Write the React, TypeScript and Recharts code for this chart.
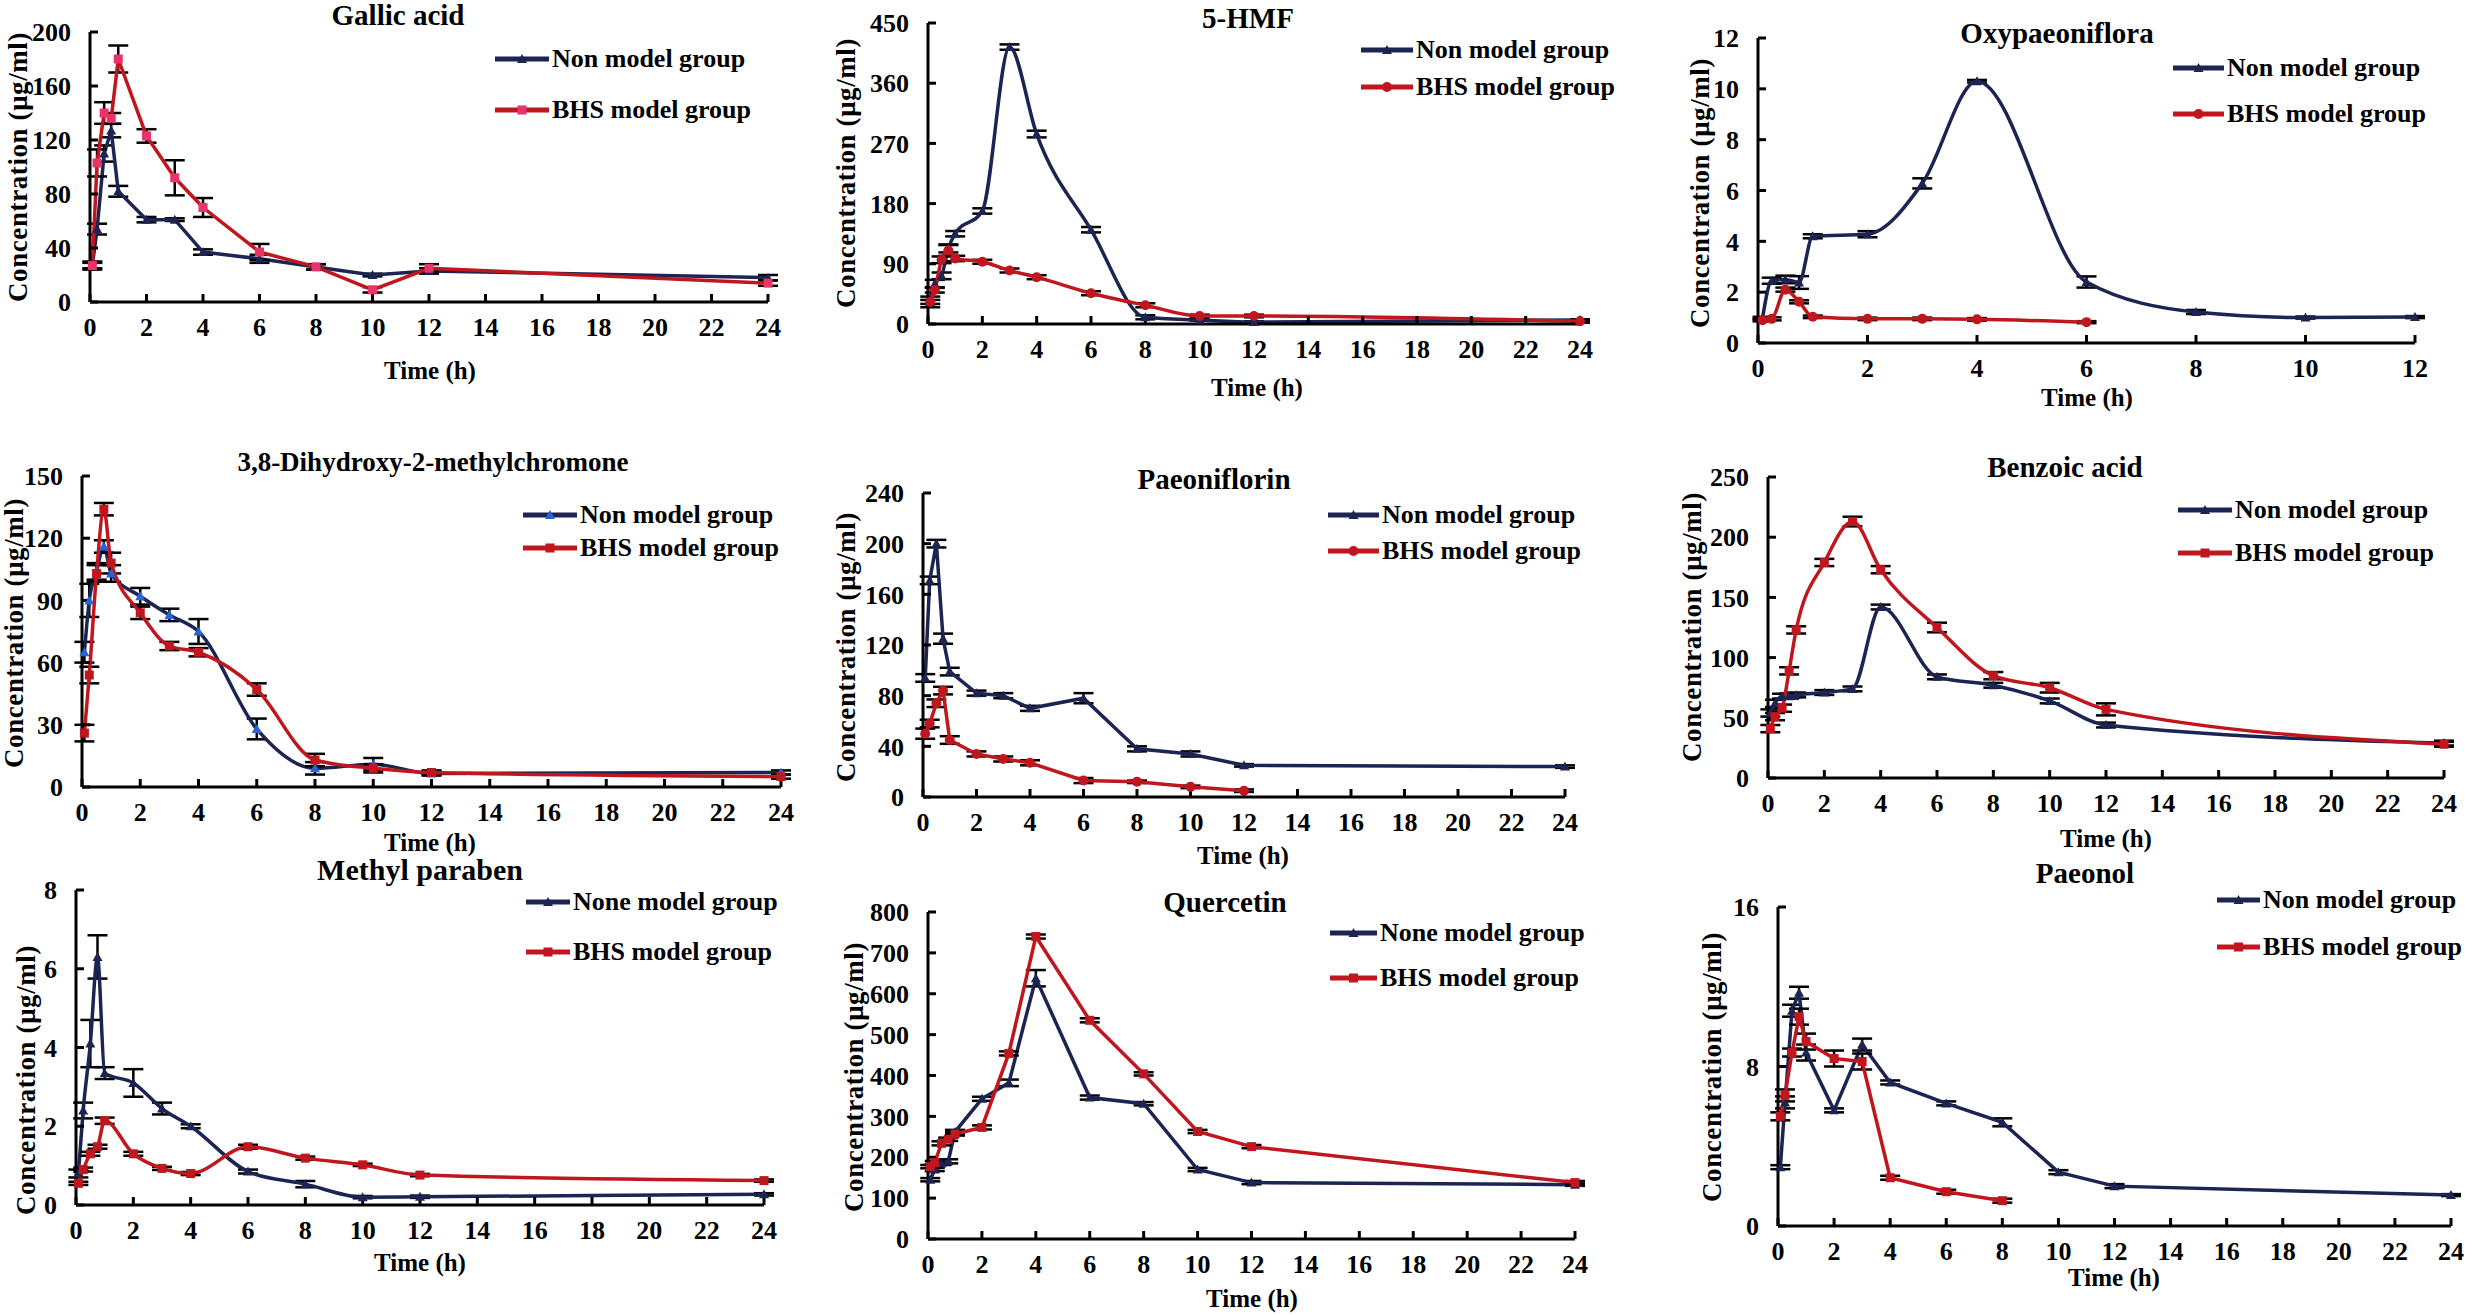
import React from 'react';
import { LineChart, Line, XAxis, YAxis, ErrorBar } from 'recharts';

// sampling times (h)
const TIMES = [0.083, 0.25, 0.5, 0.75, 1, 2, 3, 4, 6, 8, 10, 12, 24];
const HOURS_24 = [0, 2, 4, 6, 8, 10, 12, 14, 16, 18, 20, 22, 24];
const HOURS_12 = [0, 2, 4, 6, 8, 10, 12];

const gallicNon = [27, 54, 110, 127, 82, 61, 61, 37, 32, 26, 20, 23, 18];
const gallicNonErr = [2, 4, 6, 5, 4, 2, 1, 2, 3, 2, 1, 2, 2];
const gallicBhs = [27, 103, 140, 136, 180, 123, 92, 70, 37, 26, 9, 25, 14];
const gallicBhsErr = [3, 10, 8, 4, 10, 5, 13, 7, 6, 2, 2, 3, 2];
const gallicTicks = [0, 40, 80, 120, 160, 200];

const hmfNon = [33, 60, 72, 113, 135, 169, 414, 284, 141, 10, 6, 3, 6];
const hmfNonErr = [8, 6, 5, 6, 4, 4, 4, 5, 4, 3, 1, 1, 1];
const hmfBhs = [33, 51, 96, 110, 98, 93, 80, 70, 46, 28, 12, 12, 4];
const hmfBhsErr = [3, 4, 5, 8, 4, 3, 3, 3, 3, 3, 2, 2, 2];
const hmfTicks = [0, 90, 180, 270, 360, 450];

const oxyNon = [0.98, 2.45, 2.5, 2.38, 4.2, 4.28, 6.28, 10.3, 2.4, 1.22, 1.0, 1.02];
const oxyNonErr = [0.05, 0.12, 0.15, 0.25, 0.08, 0.12, 0.2, 0.05, 0.22, 0.08, 0.04, 0.04];
const oxyBhs = [0.9, 0.95, 2.1, 1.62, 1.03, 0.95, 0.95, 0.93, 0.82];
const oxyBhsErr = [0.05, 0.06, 0.08, 0.06, 0.05, 0.05, 0.05, 0.05, 0.04];
const oxyTicks = [0, 2, 4, 6, 8, 10, 12];

const dhmcNon = [65, 90, 104, 116, 103, 92, 83, 75, 28, 9, 11, 6.5, 7];
const dhmcNonErr = [5, 8, 4, 3, 4, 4, 3, 6, 5, 3, 3, 1, 1];
const dhmcBhs = [26, 54, 103, 134, 108, 84, 68, 65, 47, 13, 9, 7, 5];
const dhmcBhsErr = [4, 4, 4, 3, 5, 3, 2, 2, 3, 3, 2, 1, 1];
const dhmcTicks = [0, 30, 60, 90, 120, 150];

const paeoniflorinNon = [94, 171, 200, 125, 99, 82, 80, 70, 78, 38, 34, 25, 24];
const paeoniflorinNonErr = [3, 3, 3, 4, 3, 2, 2, 2, 4, 2, 2, 1, 1];
const paeoniflorinBhs = [50, 58, 74, 84, 45, 34, 30, 27, 13, 12, 8, 5];
const paeoniflorinBhsErr = [4, 3, 3, 3, 3, 2, 2, 2, 2, 1, 1, 1];
const paeoniflorinTicks = [0, 40, 80, 120, 160, 200, 240];

const benzoicNon = [54, 62, 68, 68, 69, 71, 74, 142, 84, 77, 64, 44, 29];
const benzoicNonErr = [3, 3, 2, 2, 2, 2, 2, 2, 2, 2, 2, 2, 2];
const benzoicBhs = [41, 51, 58, 89, 123, 179, 213, 173, 125, 85, 75, 57, 28];
const benzoicBhsErr = [3, 3, 3, 3, 3, 3, 4, 3, 4, 3, 4, 5, 2];
const benzoicTicks = [0, 50, 100, 150, 200, 250];

const methylNon = [0.8, 2.4, 4.1, 6.3, 3.35, 3.1, 2.45, 2.0, 0.85, 0.53, 0.2, 0.21, 0.27];
const methylNonErr = [0.1, 0.2, 0.6, 0.55, 0.15, 0.35, 0.15, 0.05, 0.05, 0.08, 0.03, 0.03, 0.03];
const methylBhs = [0.55, 0.9, 1.3, 1.48, 2.14, 1.3, 0.93, 0.8, 1.48, 1.19, 1.02, 0.76, 0.62];
const methylBhsErr = [0.04, 0.05, 0.05, 0.05, 0.08, 0.05, 0.04, 0.04, 0.05, 0.04, 0.03, 0.03, 0.03];
const methylTicks = [0, 2, 4, 6, 8];

const quercetinNon = [145, 170, 185, 190, 262, 343, 382, 638, 346, 331, 170, 138, 133];
const quercetinNonErr = [4, 4, 4, 5, 5, 5, 8, 20, 5, 4, 4, 4, 3];
const quercetinBhs = [177, 187, 234, 244, 257, 273, 454, 740, 535, 404, 263, 226, 138];
const quercetinBhsErr = [4, 4, 5, 4, 4, 5, 5, 5, 5, 4, 4, 4, 4];
const quercetinTicks = [0, 100, 200, 300, 400, 500, 600, 700, 800];

const paeonolNon = [2.95, 6.2, 10.8, 11.7, 8.7, 5.8, 9.1, 7.2, 6.15, 5.2, 2.7, 2.0, 1.55];
const paeonolNonErr = [0.1, 0.3, 0.3, 0.3, 0.4, 0.1, 0.3, 0.1, 0.1, 0.2, 0.1, 0.1, 0.05];
const paeonolBhs = [5.5, 6.55, 8.7, 10.5, 9.25, 8.4, 8.25, 2.42, 1.72, 1.27];
const paeonolBhsErr = [0.2, 0.3, 0.2, 0.4, 0.4, 0.4, 0.4, 0.1, 0.1, 0.1];
const paeonolTicks = [0, 8, 16];

const NAVY = '#1b2452';
const RED = '#c0161e';
const FONT = '"Liberation Serif", "Times New Roman", serif';

type Marker = 'triangle' | 'square' | 'circle';

const Dot = (props: any, shape: Marker, fill: string) => {
  const { cx, cy, key } = props;
  if (cx == null || cy == null) return <g key={key} />;
  if (shape === 'triangle') {
    return (
      <path
        key={key}
        d={`M${cx},${cy - 5} L${cx + 5},${cy + 4} L${cx - 5},${cy + 4} Z`}
        fill={fill}
      />
    );
  }
  if (shape === 'circle') {
    return <circle key={key} cx={cx} cy={cy} r={5} fill={fill} />;
  }
  return <rect key={key} x={cx - 4.5} y={cy - 4.5} width={9} height={9} fill={fill} />;
};

interface PanelProps {
  title: string;
  titleSize?: number;
  times: number[];
  non: number[];
  nonErr: number[];
  bhs: number[];
  bhsErr: number[];
  yTicks: number[];
  xTicks: number[];
  nonLabel: string;
  curve: 'linear' | 'monotone';
  nonMarker?: string;
  bhsMarker?: Marker;
  bhsMarkerFill?: string;
  plot: [number, number, number, number];
  titlePos: [number, number];
  yLabelPos: [number, number];
  xLabelPos: [number, number];
  legend: [number, number, number, number];
}

const YW = 70;
const MT = 20;
const MR = 30;
const XH = 50;

function Panel(p: PanelProps) {
  const [l, t, r, b] = p.plot;
  const data = p.times.map((time, i) => ({
    t: time,
    non: p.non[i],
    nonErr: p.nonErr[i],
    bhs: p.bhs[i],
    bhsErr: p.bhsErr[i],
  }));
  const tickStyle = { fill: '#000', fontSize: 26, fontWeight: 'bold', fontFamily: FONT };
  const text = (x: number, y: number, s: string, size: number, rotate = false, spacing = 0) => (
    <div
      style={{
        position: 'absolute',
        left: x,
        top: y,
        transform: `translate(-50%, -50%)${rotate ? ' rotate(-90deg)' : ''}`,
        whiteSpace: 'nowrap',
        fontFamily: FONT,
        fontWeight: 'bold',
        fontSize: size,
        letterSpacing: spacing,
        lineHeight: 1,
        color: '#000',
      }}
    >
      {s}
    </div>
  );
  const [lx1, lx2, ly1, ly2] = p.legend;
  const bhsShape = p.bhsMarker || 'square';
  const nonDotFill = p.nonMarker || NAVY;
  const bhsDotFill = p.bhsMarkerFill || RED;
  const legendRow = (y: number, color: string, shape: Marker, label: string, dotFill: string) => (
    <div
      style={{
        position: 'absolute',
        left: lx1,
        top: y,
        transform: 'translateY(-50%)',
        display: 'flex',
        alignItems: 'center',
        whiteSpace: 'nowrap',
      }}
    >
      <svg width={lx2 - lx1} height={20} style={{ display: 'block' }}>
        <line x1={0} y1={10} x2={lx2 - lx1} y2={10} stroke={color} strokeWidth={5} />
        {Dot({ cx: (lx2 - lx1) / 2, cy: 10, key: 's' }, shape, dotFill)}
      </svg>
      <span
        style={{
          fontFamily: FONT,
          fontWeight: 'bold',
          fontSize: 26,
          marginLeft: 3,
          color: '#000',
          lineHeight: 1,
        }}
      >
        {label}
      </span>
    </div>
  );
  return (
    <>
      <div style={{ position: 'absolute', left: l - YW, top: t - MT }}>
        <LineChart
          width={r - l + YW + MR}
          height={b - t + MT + XH}
          data={data}
          margin={{ top: MT, right: MR, left: 0, bottom: 0 }}
        >
          <XAxis
            type="number"
            dataKey="t"
            domain={[0, p.xTicks[p.xTicks.length - 1]]}
            ticks={p.xTicks}
            interval={0}
            height={XH}
            axisLine={{ stroke: '#000', strokeWidth: 3 }}
            tickLine={{ stroke: '#000', strokeWidth: 3 }}
            tickSize={-8}
            tickMargin={24}
            tick={tickStyle}
          />
          <YAxis
            type="number"
            domain={[0, p.yTicks[p.yTicks.length - 1]]}
            ticks={p.yTicks}
            interval={0}
            width={YW}
            axisLine={{ stroke: '#000', strokeWidth: 3 }}
            tickLine={{ stroke: '#000', strokeWidth: 3 }}
            tickSize={-8}
            tickMargin={27}
            tick={tickStyle}
          />
          <Line
            type={p.curve}
            dataKey="non"
            stroke={NAVY}
            strokeWidth={3.5}
            dot={(d: any) => Dot(d, 'triangle', nonDotFill)}
            activeDot={false}
            isAnimationActive={false}
          >
            <ErrorBar dataKey="nonErr" width={10} strokeWidth={2.5} stroke="#000" direction="y" />
          </Line>
          <Line
            type={p.curve}
            dataKey="bhs"
            stroke={RED}
            strokeWidth={3.5}
            dot={(d: any) => Dot(d, bhsShape, bhsDotFill)}
            activeDot={false}
            isAnimationActive={false}
          >
            <ErrorBar dataKey="bhsErr" width={10} strokeWidth={2.5} stroke="#000" direction="y" />
          </Line>
        </LineChart>
      </div>
      {text(p.titlePos[0], p.titlePos[1], p.title, p.titleSize || 29)}
      {text(p.yLabelPos[0], p.yLabelPos[1], 'Concentration (μg/ml)', 27, true, 0.6)}
      {text(p.xLabelPos[0], p.xLabelPos[1], 'Time (h)', 25)}
      {legendRow(ly1, NAVY, 'triangle', p.nonLabel, nonDotFill)}
      {legendRow(ly2, RED, bhsShape, 'BHS model group', bhsDotFill)}
    </>
  );
}

export default function App() {
  return (
    <div
      style={{
        position: 'absolute',
        left: 0,
        top: 0,
        width: 2480,
        height: 1315,
        background: '#fff',
        overflow: 'hidden',
      }}
    >
      <Panel
        title="Gallic acid"
        times={TIMES}
        non={gallicNon}
        nonErr={gallicNonErr}
        bhs={gallicBhs}
        bhsErr={gallicBhsErr}
        yTicks={gallicTicks}
        xTicks={HOURS_24}
        nonLabel="Non model group"
        curve="linear"
        bhsMarkerFill="#e8336b"
        plot={[90, 32, 768, 302]}
        titlePos={[398, 15]}
        yLabelPos={[18, 167]}
        xLabelPos={[430, 370]}
        legend={[495, 549, 59, 110]}
      />
      <Panel
        title="5-HMF"
        times={TIMES}
        non={hmfNon}
        nonErr={hmfNonErr}
        bhs={hmfBhs}
        bhsErr={hmfBhsErr}
        yTicks={hmfTicks}
        xTicks={HOURS_24}
        nonLabel="Non model group"
        curve="monotone"
        bhsMarker="circle"
        plot={[928, 23, 1580, 324]}
        titlePos={[1248, 18]}
        yLabelPos={[846, 173]}
        xLabelPos={[1257, 387]}
        legend={[1361, 1413, 50, 87]}
      />
      <Panel
        title="Oxypaeoniflora"
        times={TIMES.slice(0, 12)}
        non={oxyNon}
        nonErr={oxyNonErr}
        bhs={oxyBhs}
        bhsErr={oxyBhsErr}
        yTicks={oxyTicks}
        xTicks={HOURS_12}
        nonLabel="Non model group"
        curve="monotone"
        bhsMarker="circle"
        plot={[1758, 38, 2415, 343]}
        titlePos={[2057, 33]}
        yLabelPos={[1700, 193]}
        xLabelPos={[2087, 397]}
        legend={[2173, 2224, 68, 114]}
      />
      <Panel
        title="3,8-Dihydroxy-2-methylchromone"
        titleSize={27}
        times={TIMES}
        non={dhmcNon}
        nonErr={dhmcNonErr}
        bhs={dhmcBhs}
        bhsErr={dhmcBhsErr}
        yTicks={dhmcTicks}
        xTicks={HOURS_24}
        nonLabel="Non model group"
        curve="monotone"
        nonMarker="#2a62d8"
        plot={[82, 476, 781, 787]}
        titlePos={[433, 462]}
        yLabelPos={[14, 633]}
        xLabelPos={[430, 842]}
        legend={[523, 577, 515, 548]}
      />
      <Panel
        title="Paeoniflorin"
        times={TIMES}
        non={paeoniflorinNon}
        nonErr={paeoniflorinNonErr}
        bhs={paeoniflorinBhs}
        bhsErr={paeoniflorinBhsErr}
        yTicks={paeoniflorinTicks}
        xTicks={HOURS_24}
        nonLabel="Non model group"
        curve="linear"
        bhsMarker="circle"
        plot={[923, 493, 1565, 797]}
        titlePos={[1214, 479]}
        yLabelPos={[846, 647]}
        xLabelPos={[1243, 855]}
        legend={[1328, 1379, 515, 551]}
      />
      <Panel
        title="Benzoic acid"
        times={TIMES}
        non={benzoicNon}
        nonErr={benzoicNonErr}
        bhs={benzoicBhs}
        bhsErr={benzoicBhsErr}
        yTicks={benzoicTicks}
        xTicks={HOURS_24}
        nonLabel="Non model group"
        curve="monotone"
        plot={[1768, 477, 2444, 778]}
        titlePos={[2065, 467]}
        yLabelPos={[1692, 627]}
        xLabelPos={[2106, 838]}
        legend={[2178, 2232, 510, 553]}
      />
      <Panel
        title="Methyl paraben"
        titleSize={30}
        times={TIMES}
        non={methylNon}
        nonErr={methylNonErr}
        bhs={methylBhs}
        bhsErr={methylBhsErr}
        yTicks={methylTicks}
        xTicks={HOURS_24}
        nonLabel="None model group"
        curve="monotone"
        plot={[76, 890, 764, 1205]}
        titlePos={[420, 870]}
        yLabelPos={[26, 1080]}
        xLabelPos={[420, 1262]}
        legend={[526, 570, 902, 952]}
      />
      <Panel
        title="Quercetin"
        times={TIMES}
        non={quercetinNon}
        nonErr={quercetinNonErr}
        bhs={quercetinBhs}
        bhsErr={quercetinBhsErr}
        yTicks={quercetinTicks}
        xTicks={HOURS_24}
        nonLabel="None model group"
        curve="linear"
        plot={[928, 912, 1575, 1239]}
        titlePos={[1225, 902]}
        yLabelPos={[854, 1077]}
        xLabelPos={[1252, 1298]}
        legend={[1330, 1377, 933, 978]}
      />
      <Panel
        title="Paeonol"
        times={TIMES}
        non={paeonolNon}
        nonErr={paeonolNonErr}
        bhs={paeonolBhs}
        bhsErr={paeonolBhsErr}
        yTicks={paeonolTicks}
        xTicks={HOURS_24}
        nonLabel="Non model group"
        curve="linear"
        plot={[1778, 907, 2451, 1226]}
        titlePos={[2085, 873]}
        yLabelPos={[1712, 1067]}
        xLabelPos={[2114, 1277]}
        legend={[2217, 2260, 900, 947]}
      />
    </div>
  );
}
